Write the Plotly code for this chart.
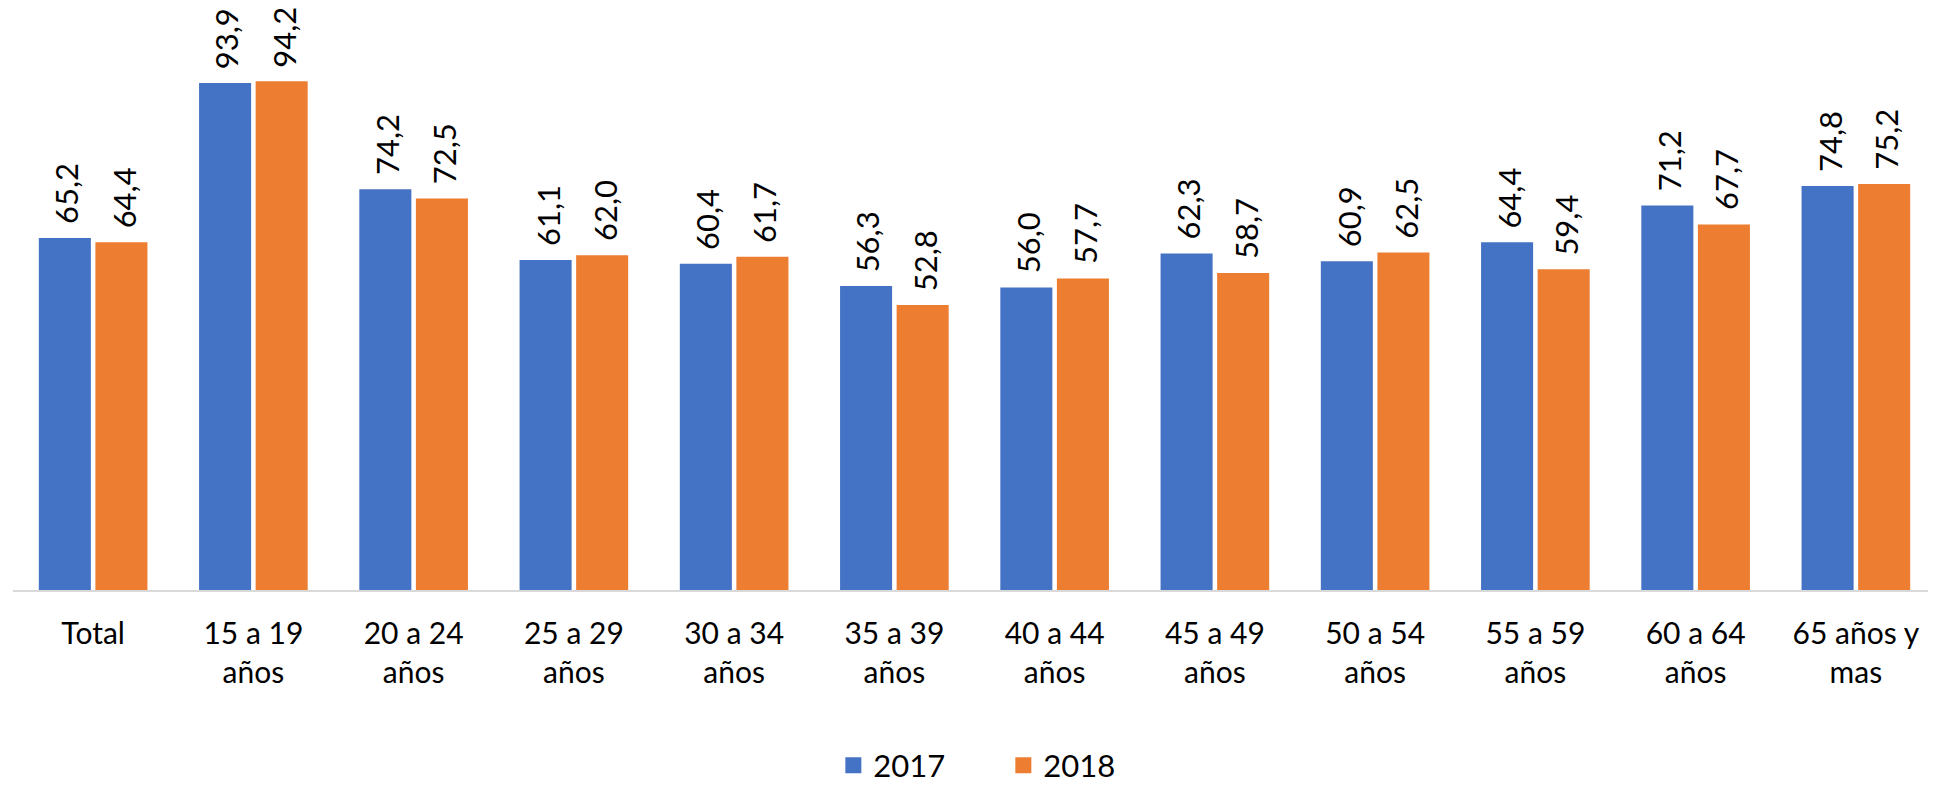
import plotly.graph_objects as go

categories = ["Total", "15 a 19<br>años", "20 a 24<br>años", "25 a 29<br>años", "30 a 34<br>años",
              "35 a 39<br>años", "40 a 44<br>años", "45 a 49<br>años", "50 a 54<br>años",
              "55 a 59<br>años", "60 a 64<br>años", "65 años y<br>mas"]
values_2017 = [65.2, 93.9, 74.2, 61.1, 60.4, 56.3, 56.0, 62.3, 60.9, 64.4, 71.2, 74.8]
values_2018 = [64.4, 94.2, 72.5, 62.0, 61.7, 52.8, 57.7, 58.7, 62.5, 59.4, 67.7, 75.2]
series_names = ["2017", "2018"]
colors = ["#4472C4", "#ED7D31"]

FONT = "Lato"
fig = go.Figure()
for name, vals, col in zip(series_names, [values_2017, values_2018], colors):
    fig.add_trace(go.Bar(name=name, x=categories, y=vals, showlegend=False,
                         marker=dict(color=col, line=dict(width=0))))
# legend entries with larger square swatches
for name, col in zip(series_names, colors):
    fig.add_trace(go.Scatter(name=name, x=[None], y=[None], mode="markers",
                             marker=dict(symbol="square", size=16, color=col)))

annotations = []
for shift, vals in zip([-28.5, 28.5], [values_2017, values_2018]):
    for c, v in zip(categories, vals):
        annotations.append(dict(x=c, y=v, xref="x", yref="y", text=f"{v:.1f}".replace(".", ","),
                                showarrow=False, textangle=-90, xanchor="center", yanchor="bottom",
                                xshift=shift + 2, yshift=12,
                                font=dict(family=FONT, size=31, color="#000000")))

fig.update_layout(
    width=1928, height=777,
    margin=dict(l=5, r=0, t=42, b=195),
    paper_bgcolor="white", plot_bgcolor="white",
    barmode="group", bargap=0.294, bargroupgap=0.08,
    font=dict(family=FONT, size=30, color="#000000"),
    showlegend=True,
    legend=dict(orientation="h", x=0.515, xanchor="center", xref="paper",
                y=0.025, yanchor="middle", yref="container",
                font=dict(family=FONT, size=31), entrywidth=125, entrywidthmode="pixels",
                traceorder="normal", itemsizing="trace"),
    annotations=annotations,
)
fig.update_xaxes(showline=True, linecolor="#D9D9D9", linewidth=2, showgrid=False, automargin=False,
                 ticks="", tickfont=dict(family=FONT, size=30, color="#000000"), ticklabelstandoff=16)
fig.update_yaxes(range=[0, 100], visible=False, showgrid=False, zeroline=False, automargin=False)

fig.write_html("out.html")
